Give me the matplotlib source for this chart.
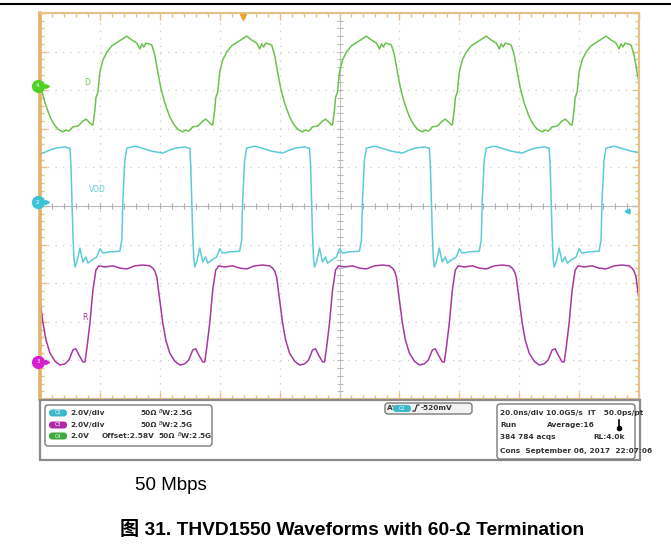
import numpy as np
import matplotlib
matplotlib.use("Agg")
import matplotlib.pyplot as plt
from matplotlib.patches import FancyBboxPatch, Rectangle

# scope: 20 ns/div, 10 x 10 divisions; traces given per period (40 ns) in divisions
period_starts_d = [-22.33, 17.67, 57.67, 97.67, 137.67, 177.67]
d_t = [0, 0.67, 1.0, 1.33, 1.67, 2.33, 3.33, 4.67, 6.33, 8.33, 10.33, 11.33, 13.0, 14.67,
       15.67, 16.33, 17.0, 17.67, 18.67, 19.67, 20.67, 21.67, 22.67, 24.0, 25.67, 27.0,
       28.33, 30.0, 31.0, 32.0, 33.33, 35.0, 36.67, 37.67, 38.67, 39.67]
d_v = [2.10, 2.49, 2.80, 2.88, 2.95, 3.47, 3.78, 3.99, 4.15, 4.25, 4.35, 4.40, 4.30, 4.22,
       4.07, 4.20, 4.12, 4.22, 4.20, 4.17, 3.91, 3.47, 3.06, 2.67, 2.31, 2.12,
       1.99, 1.92, 1.97, 1.94, 2.05, 2.07, 2.20, 2.25, 2.18, 2.10]

period_starts_vod = [-30, 10, 50, 90, 130, 170]
vod_t = [0, 0.33, 0.67, 1.0, 1.33, 1.67, 2.33, 3.33, 4.33, 5.33, 6.0, 7.33, 9.0, 10.0,
         11.0, 13.33, 16.67, 17.33, 17.67, 18.33, 19.0, 21.67, 24.0, 27.33, 31.0, 33.33,
         35.33, 38.33, 39.67]
vod_v = [1.50, 1.06, 0.16, -0.75, -1.35, -1.58, -1.45, -1.09, -1.45, -1.32, -1.48, -1.40,
         -1.32, -1.11, -1.22, -1.19, -1.17, -0.88, 0.16, 1.19, 1.50, 1.55, 1.50, 1.42, 1.37,
         1.45, 1.50, 1.53, 1.50]

period_starts_r = [-25, 15, 55, 95, 135, 175]
r_t = [0, 0.67, 1.67, 2.67, 3.67, 4.67, 6.67, 9.33, 11.67, 14.0, 16.67, 19.33, 21.67,
       22.67, 23.33, 24.0, 25.0, 26.0, 27.0, 28.33, 30.0, 31.67, 33.33, 34.67, 36.0, 37.0,
       38.0, 39.33]
r_v = [-4.04, -3.68, -3.03, -2.18, -1.66, -1.55, -1.58, -1.55, -1.61, -1.63, -1.55, -1.53,
       -1.55, -1.61, -1.68, -1.84, -2.44, -3.03, -3.47, -3.81, -4.02, -4.12, -4.09, -3.99,
       -3.73, -3.70, -3.86, -4.04]

GREEN = "#6cc24e"
CYAN = "#5ccbd9"
MAGENTA = "#a6389f"
FRAME = "#e6c084"


def tile(t, v, starts):
    tt = np.concatenate([np.array(t) + s for s in starts])
    vv = np.tile(v, len(starts))
    return tt, vv


W, H = 671, 558
fig = plt.figure(figsize=(W / 100, H / 100), dpi=100)


def fx(px):
    return px / W


def fy(py):
    return 1 - py / H


ax = fig.add_axes([fx(40), fy(399), (639 - 40) / W, (399 - 13) / H])
ax.set_xlim(0, 200)
ax.set_ylim(-5, 5)
ax.set_xticks(np.arange(0, 201, 20))
ax.set_xticks(np.arange(0, 201, 4), minor=True)
ax.set_yticks(np.arange(-5, 6, 1))
ax.set_yticks(np.arange(-5, 5.01, 0.2), minor=True)
ax.tick_params(which="both", direction="in", labelleft=False, labelbottom=False,
               top=True, right=True, color=FRAME, width=1)
ax.tick_params(which="major", length=5)
ax.tick_params(which="minor", length=3)
ax.grid(True, which="major", ls=(0, (1, 5)), color="#cccccc", lw=0.9)
for side, s in ax.spines.items():
    s.set_color(FRAME)
    s.set_linewidth(1.5)
ax.spines["left"].set_linewidth(2.6)
ax.spines["left"].set_color("#e2b36a")

# center crosshair with fine ticks
ax.axhline(0, color="#b8b8b8", lw=0.8)
ax.axvline(100, color="#c4c4c4", lw=0.7)
xs = np.arange(0, 201, 4)
ax.plot(xs, np.zeros_like(xs), ls="none", marker="|", ms=4, mew=0.8, color="#b0b0b0")
ys = np.arange(-5, 5.01, 0.2)
ax.plot(np.full_like(ys, 100), ys, ls="none", marker="_", ms=4, mew=0.8, color="#b8b8b8")

for (t, v, st, c) in [(d_t, d_v, period_starts_d, GREEN),
                      (vod_t, vod_v, period_starts_vod, CYAN),
                      (r_t, r_v, period_starts_r, MAGENTA)]:
    tt, vv = tile(t, v, st)
    ax.plot(tt, vv, color=c, lw=1.1)

ax.text(15.7, 3.21, "D", color=GREEN, fontsize=5.5, ha="center", va="center")
ax.text(19.3, 0.44, "VOD", color=CYAN, fontsize=5.5, ha="center", va="center")
ax.text(15.0, -2.90, "R", color=MAGENTA, fontsize=5.5, ha="center", va="center")

# channel markers on the left, trigger marker on top
for y, c, n in [(3.11, "#4fd224", "4"), (0.10, "#38c4d4", "2"), (-4.04, "#d61fd0", "3")]:
    ax.plot([-0.7], [y], marker="o", ms=8.5, color=c, clip_on=False, zorder=6)
    ax.plot([2.2], [y], marker=">", ms=3, color=c, clip_on=False, zorder=6)
    ax.plot([0.5, 2.0], [y, y], color=c, lw=1, clip_on=False, zorder=6)
    ax.text(-0.7, y, n, color="white", fontsize=4, ha="center", va="center", zorder=7)
ax.plot([67.7], [4.9], marker="v", ms=5, color="#f0a030", clip_on=False, zorder=6)
ax.plot([196], [-0.13], marker="<", ms=3.5, color="#38c4d4", zorder=6)

# overlay in pixel coordinates for the panel and caption
ov = fig.add_axes([0, 0, 1, 1], facecolor="none")
ov.set_xlim(0, W)
ov.set_ylim(H, 0)
ov.axis("off")

ov.plot([0, W], [4, 4], color="black", lw=1.5)
ov.add_patch(Rectangle((40, 400), 600, 60, fill=False, ec="#8a8a8a", lw=1.6))


def rbox(x0, y0, x1, y1, fc="white", ec="#7a7a7a", r=3):
    ov.add_patch(FancyBboxPatch((x0, y0), x1 - x0, y1 - y0,
                                boxstyle=f"round,pad=0,rounding_size={r}",
                                fc=fc, ec=ec, lw=1.0))


def pill(x, y, c, label):
    ov.add_patch(FancyBboxPatch((x, y - 3.5), 18, 7, boxstyle="round,pad=0,rounding_size=3.5",
                                fc=c, ec="none"))
    ov.text(x + 9, y, label, color="white", fontsize=3.5, ha="center", va="center")


TXT = dict(fontsize=5.3, color="#333333", fontweight="bold", va="center")
plt.rcParams["mathtext.fontset"] = "dejavusans"

rbox(45, 405, 212, 446)
rows = [413, 425, 436]
pill(49, rows[0], "#3cb8c8", "C2")
pill(49, rows[1], "#b02aa8", "C3")
pill(49, rows[2], "#3caa3c", "C4")
ov.text(70, rows[0], "2.0V/div", **TXT)
ov.text(70, rows[1], "2.0V/div", **TXT)
ov.text(70, rows[2], "2.0V", **TXT)
ov.text(102, rows[2], "Offset:2.58V", **TXT)
ov.text(140, rows[0], "50Ω", **TXT)
ov.text(140, rows[1], "50Ω", **TXT)
ov.text(158, rows[2], "50Ω", **TXT)
ov.text(158, rows[0], r"$^{B}$W:2.5G", **TXT)
ov.text(158, rows[1], r"$^{B}$W:2.5G", **TXT)
ov.text(177, rows[2], r"$^{B}$W:2.5G", **TXT)

rbox(385, 403, 472, 414, fc="#f2f2f2")
ov.text(387, 408.5, "A'", **TXT)
pill(393, 408.5, "#3cb8c8", "C2")
ov.plot([413, 415, 417, 419], [411, 411, 405, 405], color="#333333", lw=0.9)
ov.text(421, 408.5, "-520mV", **TXT)

rbox(497, 404, 635, 459)
ov.text(500, 413, "20.0ns/div 10.0GS/s  IT   50.0ps/pt", **TXT)
ov.text(500, 425, "Run", **TXT)
ov.text(547, 425, "Average:16", **TXT)
ov.plot([619, 619], [420, 428], color="black", lw=1.2)
ov.plot([619], [428], marker="o", ms=3, color="black")
ov.text(500, 437, "384 784 acqs", **TXT)
ov.text(593, 437, "RL:4.0k", **TXT)
ov.text(500, 451, "Cons  September 06, 2017  22:07:06", **TXT)

ov.text(135, 485, "50 Mbps", fontsize=13.5, family=["Liberation Sans", "DejaVu Sans"],
        va="center", ha="left")
ov.text(352, 530, "图 31. THVD1550 Waveforms with 60-Ω Termination", fontsize=13.8,
        fontweight="bold", family=["Liberation Sans", "Noto Sans CJK SC", "DejaVu Sans"],
        va="center", ha="center")

fig.savefig("out.png", dpi=100)
